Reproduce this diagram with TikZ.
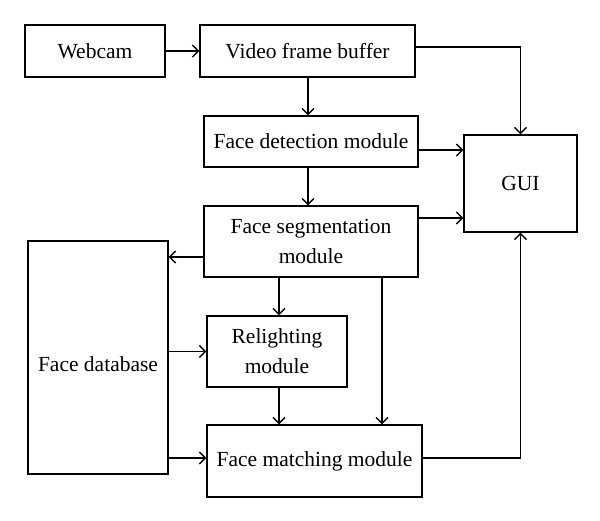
\documentclass[tikz,border=0pt]{standalone}
\usepackage{fontspec}
\setmainfont{Liberation Serif}
\usetikzlibrary{arrows.meta}
\begin{document}
\begin{tikzpicture}[x=1pt,y=-1pt,
  box/.style={draw,line width=1.4pt,inner sep=0pt,align=center,font=\fontsize{21.5}{30}\selectfont},
  arr/.style={line width=1.4pt,-{Straight Barb[length=6pt,width=12pt,line width=1.4pt]}}]
\useasboundingbox[fill=white] (0,0) rectangle (600,520);
\node[box,minimum width=140pt,minimum height=52pt] (web) at (95,51) {Webcam};
\node[box,minimum width=215pt,minimum height=52pt] (vfb) at (307.5,51) {Video frame buffer};
\node[box,minimum width=214pt,minimum height=51pt] (fd) at (311,141.5) {Face detection module};
\node[box,minimum width=113pt,minimum height=97pt] (gui) at (520.5,183.5) {GUI};
\node[box,minimum width=214pt,minimum height=71pt] (fs) at (311,241.5) {Face segmentation\\module};
\node[box,minimum width=140pt,minimum height=233pt] (db) at (98,357.5) {\raisebox{-7pt}[\height][\depth]{Face database}};
\node[box,minimum width=140pt,minimum height=71pt] (rel) at (277,351.5) {Relighting\\module};
\node[box,minimum width=215pt,minimum height=72pt] (fm) at (314.5,461) {Face matching module};
\coordinate (y1) at (0,47);
\coordinate (y2) at (0,150);
\coordinate (y3) at (0,218);
\coordinate (y4) at (0,257);
\coordinate (y5) at (0,458);
\coordinate (x1) at (382,0);
\coordinate (x2) at (279,0);
\coordinate (x3) at (308,0);
\draw[arr] (web) -- (vfb);
\draw[arr] (vfb.east |- y1) -| (gui.north);
\draw[arr] (vfb.south -| x3) -- (fd.north -| x3);
\draw[arr] (fd.east |- y2) -- (gui.west |- y2);
\draw[arr] (fd.south -| x3) -- (fs.north -| x3);
\draw[arr] (fs.east |- y3) -- (gui.west |- y3);
\draw[arr] (fs.west |- y4) -- (db.east |- y4);
\draw[arr] (fs.south -| x2) -- (rel.north -| x2);
\draw[arr] (fs.south -| x1) -- (fm.north -| x1);
\draw[arr] (db.east |- rel.west) -- (rel.west);
\draw[arr] (rel.south -| x2) -- (fm.north -| x2);
\draw[arr] (db.east |- y5) -- (fm.west |- y5);
\draw[arr] (fm.east |- y5) -| (gui.south);
\end{tikzpicture}
\end{document}
